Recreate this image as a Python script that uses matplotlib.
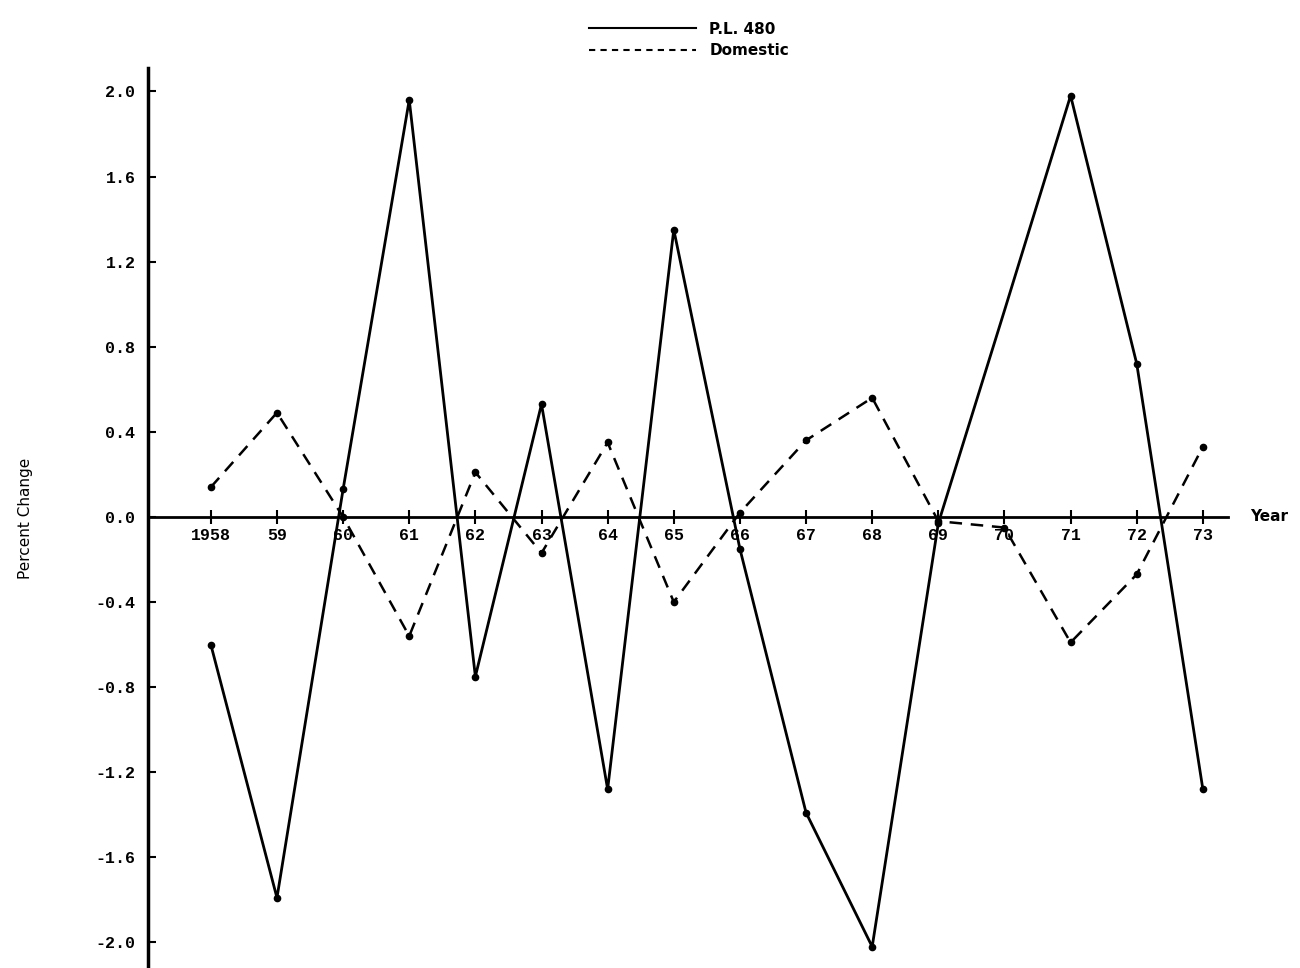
import numpy as np
import matplotlib.pyplot as plt
from matplotlib.lines import Line2D

# years and percent change
years = np.arange(1958, 1974)
year_labels = ['1958', '59', '60', '61', '62', '63', '64', '65',
               '66', '67', '68', '69', '70', '71', '72', '73']

pl480 = [-0.60, -1.79, 0.13, 1.96, -0.75, 0.53, -1.28, 1.35,
         -0.15, -1.39, -2.02, -0.03, 0.97, 1.98, 0.72, -1.28]
domestic = [0.14, 0.49, 0.00, -0.56, 0.21, -0.17, 0.35, -0.40,
            0.02, 0.36, 0.56, -0.02, -0.05, -0.59, -0.27, 0.33]

y_ticks = [2.0, 1.6, 1.2, 0.8, 0.4, 0.0, -0.4, -0.8, -1.2, -1.6, -2.0]

mono = ['Liberation Mono', 'DejaVu Sans Mono']
sans = ['DejaVu Sans']

fig = plt.figure(figsize=(13, 9.68), dpi=100)
ax = fig.add_axes([148/1300, 0, 1080/1300, 900/968])

# no dot drawn on the P.L. 480 line at 1970
pl_marks = [i for i in range(len(years)) if year_labels[i] != '70']
ax.plot(years, pl480, color='black', linewidth=2.0, marker='o', markersize=4.5,
        markevery=pl_marks)
ax.plot(years, domestic, color='black', linewidth=1.8, linestyle=(0, (5, 3.5)),
        marker='o', markersize=4.5)

ax.set_xlim(1957.05, 1973.38)
ax.set_ylim(-2.12, 2.11)

for s in ['top', 'right']:
    ax.spines[s].set_visible(False)
ax.spines['left'].set_linewidth(2.5)
ax.spines['bottom'].set_position(('data', 0))
ax.spines['bottom'].set_linewidth(2.0)

ax.set_yticks(y_ticks)
ax.set_yticklabels(['%.1f' % v for v in y_ticks], fontfamily=mono,
                   fontweight='bold', fontsize=12)
ax.tick_params(axis='y', direction='in', length=6, width=1.5, pad=9)

ax.set_xticks(years)
ax.set_xticklabels(year_labels, fontfamily=mono, fontweight='bold', fontsize=12)
ax.tick_params(axis='x', direction='inout', length=10, width=1.5, pad=3)

ax.set_ylabel('Percent Change', fontfamily=sans, fontsize=11, labelpad=45)
ax.text(1973.72, 0, 'Year', fontfamily=sans, fontweight='bold', fontsize=11,
        ha='left', va='center')

handles = [Line2D([], [], color='black', linewidth=1.5),
           Line2D([], [], color='black', linewidth=1.5, linestyle=(0, (3, 2.5)))]
fig.legend(handles, ['P.L. 480', 'Domestic'], loc='upper left',
           bbox_to_anchor=(575/1300, 1 - 8/968), frameon=False,
           handlelength=7, handletextpad=0.9, labelspacing=0.4,
           prop={'family': sans, 'weight': 'bold', 'size': 11})

fig.savefig('out.png', dpi=100)
